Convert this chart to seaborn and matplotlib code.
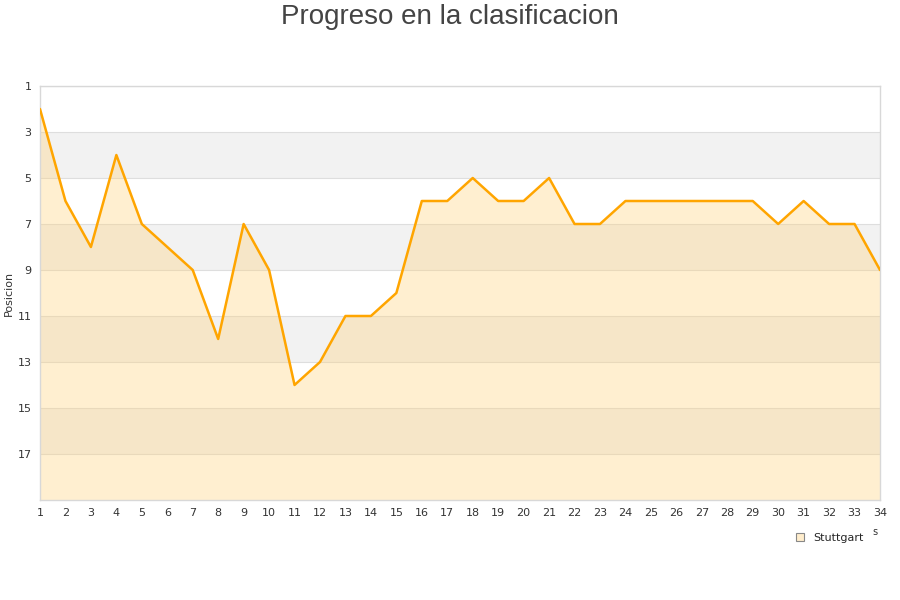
import matplotlib
matplotlib.use("Agg")
import matplotlib.pyplot as plt
import pandas as pd
import seaborn as sns
from matplotlib.patches import Patch

# Data
jornadas = list(range(1, 35))
posiciones = [2, 6, 8, 4, 7, 8, 9, 12, 7, 9, 14, 13, 11, 11, 10, 6, 6, 5, 6, 6,
              5, 7, 7, 6, 6, 6, 6, 6, 6, 7, 6, 7, 7, 9]
equipo = "Stuttgart"
y_ticks = [1, 3, 5, 7, 9, 11, 13, 15, 17]

df = pd.DataFrame({"Jornada": jornadas, "Posicion": posiciones})

sns.set_style("white")
plt.rcParams["font.family"] = ["DejaVu Sans"]

fig = plt.figure(figsize=(9, 6), dpi=100)
ax = fig.add_axes([40 / 900, 1 - 500 / 600, 840 / 900, 414 / 600])

# alternating bands
for lo in [3, 7, 11, 15]:
    ax.axhspan(lo, lo + 2, color="#f2f2f2", zorder=0, lw=0)
for t in y_ticks:
    ax.axhline(t, color="#dedede", lw=0.8, zorder=1)

ax.fill_between(df["Jornada"], df["Posicion"], 19, color="#ffd27a", alpha=0.35,
                lw=0, zorder=2)
sns.lineplot(data=df, x="Jornada", y="Posicion", ax=ax, color="#ffa500", lw=1.8,
             zorder=3)

ax.set_xlim(1, 34)
ax.set_ylim(19, 1)
ax.set_xticks(jornadas)
ax.set_yticks(y_ticks)
ax.tick_params(axis="both", labelsize=8, colors="#333333", length=0, pad=6)
ax.set_xlabel("")
ax.set_ylabel("Posicion", fontsize=8, color="#333333")
ax.yaxis.set_label_coords(-26 / 840, (500 - 293) / 414)
for s in ax.spines.values():
    s.set_color("#d8d8d8")
    s.set_linewidth(1)

fig.text(0.5, 1 - 17 / 600, "Progreso en la clasificacion", ha="center", va="center",
         fontsize=20, color="#444444", family=["Liberation Sans", "DejaVu Sans"])
fig.text(875 / 900, 1 - 532 / 600, "s", ha="center", va="center", fontsize=7,
         color="#333333")

handle = Patch(facecolor="#ffedcc", edgecolor="#888888", lw=0.8)
fig.legend([handle], [equipo], loc="center", bbox_to_anchor=(830 / 900, 1 - 538 / 600),
           frameon=False, fontsize=8, handlelength=0.7, handleheight=0.7,
           handletextpad=0.8)

fig.savefig("out.png", dpi=100)
